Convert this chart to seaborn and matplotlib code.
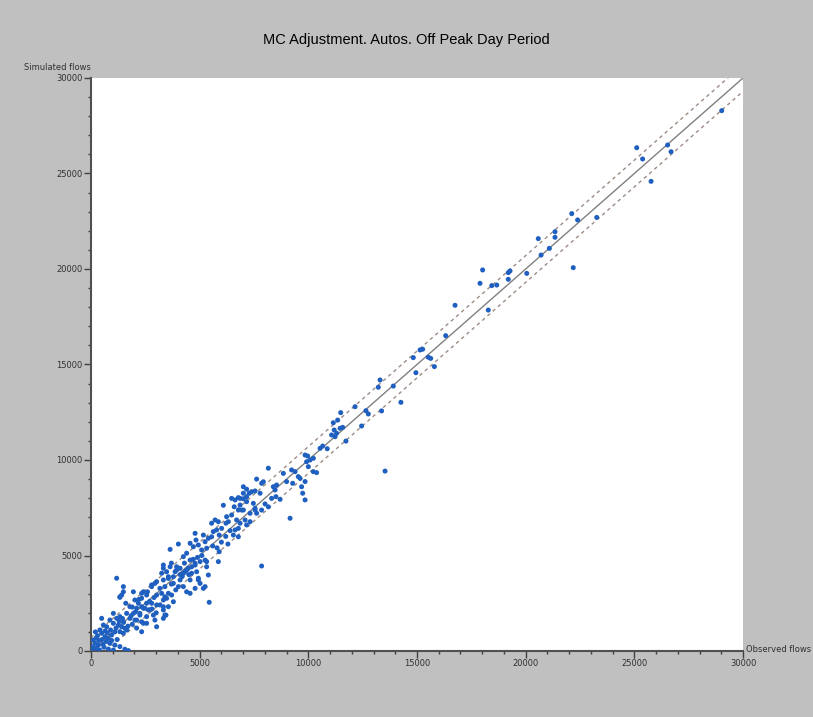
import numpy as np
import pandas as pd
import seaborn as sns
import matplotlib.pyplot as plt
from matplotlib.ticker import MultipleLocator

sns.set_theme(style='white')
plt.rcParams['font.family'] = ['Liberation Sans', 'DejaVu Sans']

# observed / simulated flows, in thousands of veh
points = [
    (29.02, 28.29), (26.69, 26.14), (26.53, 26.49), (25.77, 24.59), (25.38, 25.76), (25.11, 26.35),
    (23.27, 22.70), (22.39, 22.57), (22.12, 22.90), (22.19, 20.07), (21.35, 21.95), (21.35, 21.66),
    (21.09, 21.08), (20.71, 20.73), (20.58, 21.59), (20.05, 19.77),
    (19.20, 19.81), (19.28, 19.90), (19.20, 19.46), (18.67, 19.16), (18.44, 19.13), (18.28, 17.85),
    (18.02, 19.95), (17.90, 19.25), (16.75, 18.10),
    (16.32, 16.51), (15.63, 15.32), (15.52, 15.38), (15.26, 15.80), (15.14, 15.76), (14.83, 15.36),
    (14.95, 14.57), (15.80, 14.89),
    (14.26, 13.02), (13.91, 13.87), (13.30, 14.19), (13.22, 13.81), (13.53, 9.42), (13.37, 12.57),
    (12.76, 12.41), (12.65, 12.58), (12.45, 11.78), (12.15, 12.79),
    (11.73, 10.99), (11.58, 11.71), (11.49, 12.48), (11.46, 11.66), (11.35, 12.09), (11.30, 11.40),
    (11.23, 11.22), (11.19, 11.57), (11.15, 11.95), (11.07, 11.31),
    (10.87, 10.59), (10.66, 10.73), (10.54, 10.61), (10.38, 9.34), (10.23, 9.39), (10.23, 10.09),
    (10.08, 10.00), (9.97, 10.21), (9.92, 9.91), (9.85, 10.26), (10.00, 9.65),
    (9.85, 8.87), (9.85, 7.91), (9.74, 8.26), (9.69, 8.60), (9.62, 9.04), (9.54, 9.13), (9.39, 9.39),
    (9.23, 9.48), (9.28, 8.78), (9.16, 6.95), (9.00, 8.87), (8.85, 9.30),
    (8.70, 7.94), (8.54, 8.69), (8.51, 8.08), (8.47, 8.43), (8.39, 8.60), (8.31, 7.99), (8.16, 9.57),
    (8.16, 7.55), (8.01, 7.70), (7.93, 8.86), (7.85, 8.78), (7.85, 4.45), (7.78, 8.26), (7.62, 9.00),
    (7.62, 7.21), (7.55, 8.38), (7.55, 7.47), (7.39, 8.34), (7.32, 7.21), (7.28, 8.26), (7.16, 8.08),
    (7.16, 8.47), (7.01, 7.97), (7.01, 8.60), (7.01, 8.26), (6.93, 7.38), (6.86, 7.64), (6.86, 7.99),
    (6.78, 8.03),
    (7.47, 7.73), (7.55, 7.38), (7.85, 7.38), (7.09, 6.86), (7.32, 6.77), (7.16, 6.60), (7.16, 7.82),
    (7.01, 7.38), (6.78, 7.38), (6.59, 7.55), (6.63, 7.91), (6.47, 7.99), (6.09, 7.63), (6.47, 7.12),
    (6.70, 6.86), (6.86, 6.69), (6.24, 7.03), (6.32, 6.77), (6.21, 6.69), (6.63, 6.34), (6.78, 6.42),
    (6.55, 6.07), (6.78, 5.98), (6.01, 6.42), (5.78, 6.34), (5.63, 6.25), (5.90, 6.07), (5.55, 6.69),
    (5.71, 6.86), (5.86, 6.77), (5.40, 5.90), (5.55, 5.98), (4.79, 6.16), (4.83, 5.81), (5.17, 6.07),
    (5.25, 5.72), (4.56, 5.64), (4.71, 5.46), (4.94, 5.55), (5.09, 5.29), (5.32, 5.38), (3.64, 5.32),
    (4.02, 5.60),
    (4.25, 4.94), (4.40, 5.12), (4.56, 4.76), (4.79, 4.50), (4.48, 4.33), (4.33, 4.15), (4.63, 4.07),
    (4.86, 4.15), (4.56, 3.72), (4.94, 3.72), (5.25, 3.37), (5.44, 2.55), (5.02, 3.54), (3.94, 4.24),
    (3.79, 3.89), (4.10, 3.72), (4.02, 3.37), (4.25, 3.37), (3.79, 3.54), (3.33, 4.33), (3.48, 4.15),
    (3.56, 3.89),
    (5.02, 4.68), (5.25, 4.76), (5.32, 4.41), (5.40, 3.98), (4.94, 3.81), (4.79, 3.28), (5.17, 3.28),
    (4.40, 3.10), (4.56, 3.02), (5.32, 4.68), (5.86, 4.68), (4.63, 4.41), (4.79, 4.59), (4.40, 4.24),
    (4.25, 4.07), (4.10, 4.33), (3.87, 4.15), (3.94, 4.41), (3.33, 4.50), (3.64, 4.41), (3.25, 4.07),
    (3.33, 3.72), (3.56, 3.80), (3.02, 3.63), (2.79, 3.46),
    (2.79, 3.37), (2.94, 3.54), (3.17, 3.28), (3.40, 3.37), (3.02, 2.93), (3.25, 3.02), (3.40, 2.84),
    (3.56, 3.02), (3.33, 2.67), (2.79, 2.50), (3.02, 2.41), (3.33, 2.32), (3.45, 1.88), (3.48, 2.76),
    (3.71, 2.93), (3.79, 2.58), (3.56, 2.32), (3.33, 2.15), (3.17, 2.41), (2.41, 3.10), (2.56, 2.93),
    (2.33, 2.76), (2.02, 2.67), (2.18, 2.50), (2.33, 2.32), (2.48, 2.24), (2.64, 2.15), (2.10, 2.24),
    (2.25, 1.97), (2.56, 2.50), (2.41, 2.24), (2.71, 2.15), (2.87, 1.88), (2.56, 1.80), (2.25, 1.88),
    (2.10, 1.62), (2.41, 1.45), (2.94, 1.62), (3.02, 1.27), (3.33, 1.71), (3.40, 1.88), (1.79, 2.32),
    (1.95, 1.97), (1.64, 1.97), (1.79, 1.71), (2.02, 1.62), (2.33, 1.53), (2.56, 1.45), (2.33, 1.01),
    (1.18, 3.81), (1.33, 2.84), (1.41, 2.93), (1.49, 3.37), (1.49, 3.10), (1.95, 3.10), (2.33, 3.02),
    (1.33, 2.81),
    (1.03, 1.97), (1.18, 1.71), (1.33, 1.80), (0.87, 1.62), (1.03, 1.45), (1.26, 1.36), (1.41, 1.27),
    (1.56, 1.19), (1.33, 1.01), (1.49, 0.93), (0.49, 1.71), (0.57, 1.36), (0.72, 1.27), (0.41, 1.10),
    (0.49, 0.93), (0.64, 0.75), (0.80, 0.66), (0.95, 0.84), (0.11, 0.58), (0.18, 0.40), (0.34, 0.31),
    (0.03, 0.23), (0.26, 0.14), (0.00, 0.05), (0.87, 0.40), (1.10, 0.31), (1.33, 0.23), (1.56, 0.09),
    (1.72, 0.02), (1.03, 0.05),
    (0.60, 0.20), (0.70, 0.50), (0.50, 0.60), (0.30, 0.80), (0.20, 1.00), (0.90, 1.10), (1.10, 1.00),
    (1.20, 0.60), (0.40, 0.05), (0.80, 0.10), (1.50, 1.50), (1.70, 1.30), (1.90, 2.30), (1.60, 2.50),
    (1.90, 1.40), (2.10, 1.20), (2.70, 2.60), (2.90, 2.80), (2.80, 2.20), (3.00, 2.00), (2.60, 3.10),
    (3.90, 3.20), (3.70, 3.50), (4.20, 3.90), (4.50, 4.00), (4.70, 4.80), (4.90, 4.90), (5.10, 5.00),
    (4.30, 4.60), (4.10, 4.00), (3.70, 4.60), (5.60, 5.50), (5.80, 5.40), (6.00, 5.70), (6.20, 6.00),
    (6.40, 6.30), (5.90, 5.20), (6.30, 5.60),
    (0.15, 0.15), (0.35, 0.55), (0.55, 0.35), (0.75, 0.95), (0.95, 0.55), (0.25, 0.70), (0.65, 1.05),
    (1.15, 1.20), (1.30, 1.55), (1.45, 1.70), (1.65, 1.10), (1.85, 1.85), (2.05, 2.05), (2.20, 2.70),
]
observed = [p[0] * 1000 for p in points]
simulated = [p[1] * 1000 for p in points]

# reference line and tolerance band
line_x = [0, 30000]
band = 700

df = pd.DataFrame({'observed': observed, 'simulated': simulated})

fig = plt.figure(figsize=(8.13, 7.17), dpi=100)
fig.patch.set_facecolor('#c0c0c0')
ax = fig.add_axes([91 / 813, 1 - 651 / 717, 652 / 813, 573 / 717])
ax.set_facecolor('white')

lines = pd.DataFrame({'x': line_x, 'y': line_x})
sns.lineplot(data=lines, x='x', y='y', ax=ax, color='#808080', lw=1.0)
sns.lineplot(x=line_x, y=[v + band for v in line_x], ax=ax, color='#9c8c84', lw=1.0,
             linestyle=(0, (2.5, 2.5)))
sns.lineplot(x=line_x, y=[v - band for v in line_x], ax=ax, color='#9c8c84', lw=1.0,
             linestyle=(0, (2.5, 2.5)))

sns.scatterplot(data=df, x='observed', y='simulated', ax=ax, color='#1f5fbf', s=13,
                edgecolor='none', linewidth=0, zorder=3)

ax.set_xlim(0, 30000)
ax.set_ylim(0, 30000)
ax.xaxis.set_major_locator(MultipleLocator(5000))
ax.yaxis.set_major_locator(MultipleLocator(5000))
ax.xaxis.set_minor_locator(MultipleLocator(1000))
ax.yaxis.set_minor_locator(MultipleLocator(1000))
ax.tick_params(which='major', length=5, width=1, color='#404040', labelsize=6,
               labelcolor='#303030', pad=1, bottom=True, left=True)
ax.tick_params(which='minor', length=2.5, width=1, color='#404040', bottom=True, left=True)
for lab in ax.get_xticklabels() + ax.get_yticklabels():
    lab.set_family('DejaVu Sans')
ax.set_xlabel('')
ax.set_ylabel('')
for side in ['top', 'right']:
    ax.spines[side].set_visible(False)
for side in ['left', 'bottom']:
    ax.spines[side].set_color('#505050')
    ax.spines[side].set_linewidth(1.5)

fig.text(0.5, 1 - 40 / 717, 'MC Adjustment. Autos. Off Peak Day Period', ha='center', va='center',
         fontsize=10.5, color='black')
fig.text(91 / 813, 1 - 68 / 717, 'Simulated flows', ha='right', va='center', fontsize=6,
         color='#303030', family='DejaVu Sans')
fig.text(746 / 813, 1 - 650 / 717, 'Observed flows', ha='left', va='center', fontsize=6,
         color='#303030', family='DejaVu Sans')

fig.savefig('out.png', dpi=100, facecolor=fig.get_facecolor())
